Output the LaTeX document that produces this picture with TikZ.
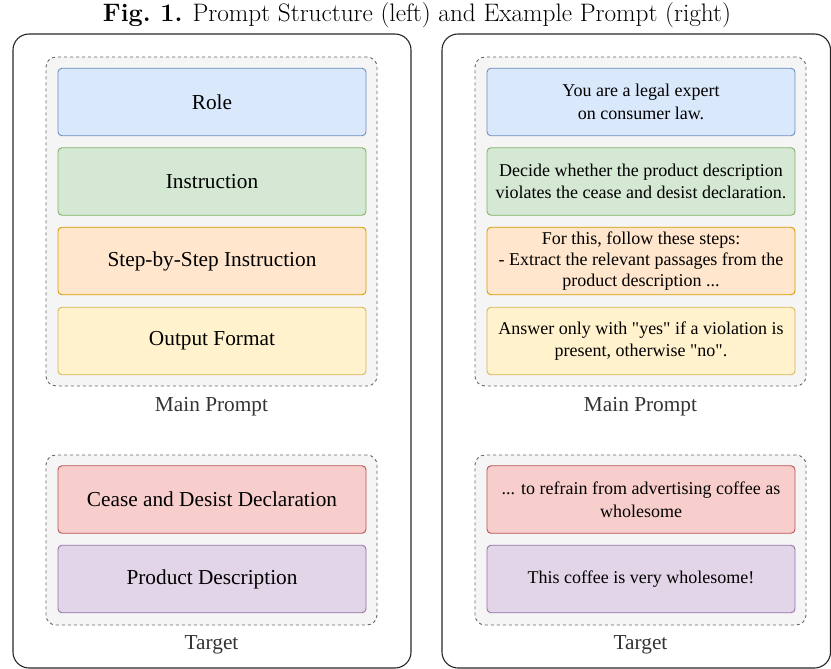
\documentclass[tikz,border=0pt]{standalone}
\usepackage{fontspec}
\newfontfamily\tnr{Liberation Serif}
\definecolor{bluef}{HTML}{DAE8FC}\definecolor{blued}{HTML}{6C8EBF}
\definecolor{greenf}{HTML}{D5E8D4}\definecolor{greend}{HTML}{82B366}
\definecolor{orangef}{HTML}{FFE6CC}\definecolor{oranged}{HTML}{D79B00}
\definecolor{yellowf}{HTML}{FFF2CC}\definecolor{yellowd}{HTML}{D6B656}
\definecolor{redf}{HTML}{F8CECC}\definecolor{redd}{HTML}{B85450}
\definecolor{purplef}{HTML}{E1D5E7}\definecolor{purpled}{HTML}{9673A6}
\definecolor{grpf}{HTML}{F5F5F5}\definecolor{grpd}{HTML}{666666}
\definecolor{lbl}{HTML}{333333}
\tikzset{
  outerbox/.style={draw=black!85, line width=1.1pt, rounded corners=16pt, inner sep=0pt, outer sep=0pt, minimum height=634pt},
  groupbox/.style={draw=grpd, fill=grpf, line width=0.9pt, dash pattern=on 3pt off 3pt, rounded corners=10pt, minimum width=331pt, inner sep=0pt, outer sep=0pt},
  item/.style={line width=0.9pt, rounded corners=4pt, minimum width=308pt, minimum height=67.5pt, inner sep=0pt, outer sep=0pt, align=center, text=black},
  bigtxt/.style={font=\tnr\fontsize{21.3}{25}\selectfont},
  smalltxt/.style={font=\tnr\fontsize{18}{22.5}\selectfont},
  cblue/.style={fill=bluef, draw=blued},
  cgreen/.style={fill=greenf, draw=greend},
  corange/.style={fill=orangef, draw=oranged},
  cyellow/.style={fill=yellowf, draw=yellowd},
  cred/.style={fill=redf, draw=redd},
  cpurple/.style={fill=purplef, draw=purpled},
  grouplabel/.style={font=\tnr\fontsize{21.3}{25}\selectfont, text=lbl, inner sep=0pt}
}
\begin{document}
\begin{tikzpicture}[x=1pt,y=-1pt]
\useasboundingbox (0,0) rectangle (831,669);
\node[inner sep=0pt] (title) at (417,15) {\resizebox{628pt}{!}{\fontsize{20}{24}\selectfont\textbf{Fig.~1.} Prompt Structure (left) and Example Prompt (right)}};
% outer frames
\node[outerbox, minimum width=398pt] (outL) at (212,351) {};
\node[outerbox, minimum width=388.5pt] (outR) at (636.25,351) {};
% groups
\node[groupbox, minimum height=329pt] (mainL) at (211.5,221.5) {};
\node[groupbox, minimum height=170pt] (tgtL) at (211.5,540) {};
\node[groupbox, minimum height=329pt] (mainR) at (640.5,221.5) {};
\node[groupbox, minimum height=170pt] (tgtR) at (640.5,540) {};
% left items
\node[item, cblue, bigtxt] (role) at (212,102) {Role};
\node[item, cgreen, bigtxt] (instr) at (212,181.5) {Instruction};
\node[item, corange, bigtxt] (step) at (212,261) {Step-by-Step Instruction};
\node[item, cyellow, bigtxt] (out) at (212,341) {Output Format};
\node[item, cred, bigtxt] (cdd) at (212,499.5) {Cease and Desist Declaration};
\node[item, cpurple, bigtxt] (prod) at (212,579) {Product Description};
% right items
\node[item, cblue, smalltxt] (roleR) at (641,102) {You are a legal expert\\on consumer law.};
\node[item, cgreen, smalltxt] (instrR) at (641,181.5) {Decide whether the product description\\violates the cease and desist declaration.};
\node[item, corange, font=\tnr\fontsize{18}{21}\selectfont] (stepR) at (641,261) {For this, follow these steps:\\- Extract the relevant passages from the\\product description ...};
\node[item, cyellow, smalltxt] (outR2) at (641,341) {Answer only with "yes" if a violation is\\present, otherwise "no".};
\node[item, cred, smalltxt] (cddR) at (641,499.5) {... to refrain from advertising coffee as\\wholesome};
\node[item, cpurple, smalltxt] (prodR) at (641,579) {This coffee is very wholesome!};
% labels
\node[grouplabel] (lblML) at (211.5,407) {Main Prompt};
\node[grouplabel] (lblTL) at (211.5,645) {Target};
\node[grouplabel] (lblMR) at (640.5,407) {Main Prompt};
\node[grouplabel] (lblTR) at (640.5,645) {Target};
\end{tikzpicture}
\end{document}
